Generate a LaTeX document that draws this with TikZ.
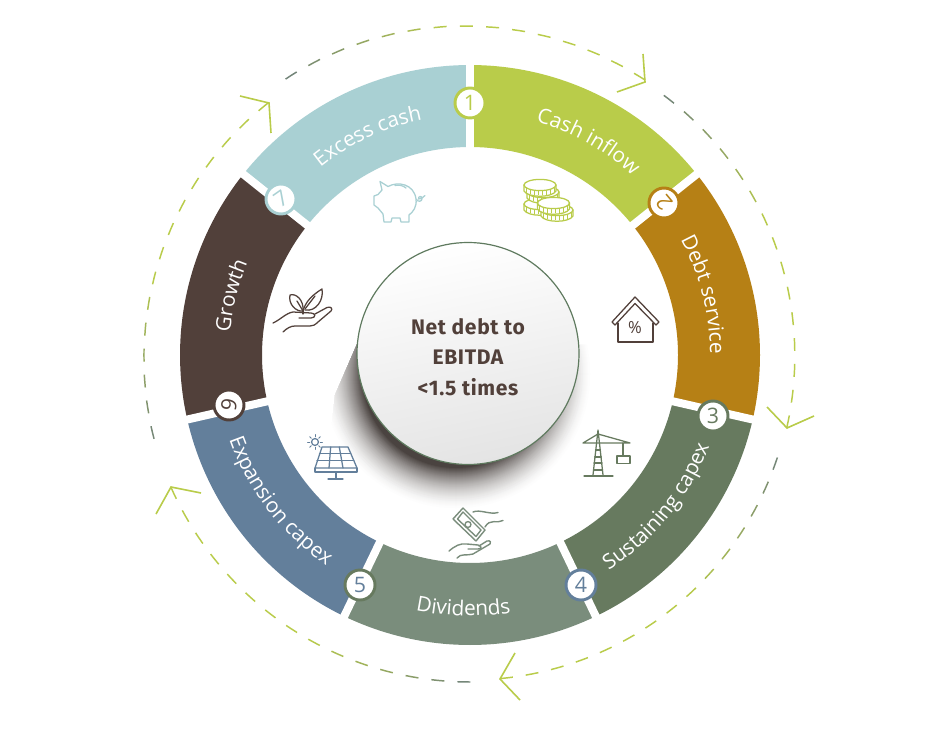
\documentclass[tikz,border=0pt]{standalone}
\usepackage{fontspec}
\setmainfont{Open Sans}
\newfontfamily\ringfont{Open Sans}
\newfontfamily\hubfont[LetterSpace=3]{Fira Sans}
\usetikzlibrary{decorations.text,shapes.geometric}
\definecolor{cExcess}{HTML}{A9D0D3}
\definecolor{cCash}{HTML}{B9CC4A}
\definecolor{cDebt}{HTML}{B68015}
\definecolor{cSust}{HTML}{677A5F}
\definecolor{cDiv}{HTML}{7A8D7C}
\definecolor{cExp}{HTML}{637F9B}
\definecolor{cGrow}{HTML}{51403A}
\definecolor{arcGrey}{HTML}{71837A}
\definecolor{shA}{HTML}{4A4340}
\definecolor{hubLow}{HTML}{E4E4E4}
\definecolor{hubLine}{HTML}{5F7A5F}
\newcommand\ringtxt{\color{white}\ringfont\fontsize{15.6}{18}\selectfont}
\newcommand\seg[3]{\fill[#3] plot[domain=#1:#2,samples=41,variable=\t]({470+290*cos(\t)},{355-290*sin(\t)}) -- plot[domain=#2:#1,samples=41,variable=\t]({470+208*cos(\t)},{355-208*sin(\t)}) -- cycle;}
\newcommand\gapline[1]{\draw[white,line width=6pt] ({470+198*cos(#1)},{355-198*sin(#1)}) -- ({470+300*cos(#1)},{355-300*sin(#1)});}
\newcommand\ringlabel[4]{\path[decorate,decoration={text along path,text align=center,text={|\ringtxt|#1}}] plot[domain=#2:#3,samples=81,variable=\t]({470+#4*cos(\t)},{355-#4*sin(\t)});}
% start angle, tip angle, r start, r tip
\newcommand\dasharc[4]{%
 \pgfmathsetmacro\sgn{(#2>#1)?1:-1}
 \pgfmathtruncatemacro\nn{abs(#2-#1)/4.57}
 \foreach \i in {0,...,\nn}{
  \pgfmathsetmacro\ae{#2-\sgn*\i*4.57}
  \pgfmathsetmacro\as{\ae-\sgn*2.28}
  \pgfmathsetmacro\ff{abs(\ae-#1)/abs(#2-#1)}
  \pgfmathtruncatemacro\pp{min(100,\ff*220)}
  \pgfmathsetmacro\rr{#3+(#4-#3)*\ff}
  \draw[dashpiece,color=cCash!\pp!arcGrey] ({470+\rr*cos(\as)},{355-\rr*sin(\as)}) -- ({470+\rr*cos((\as+\ae)/2)},{355-\rr*sin((\as+\ae)/2)}) -- ({470+\rr*cos(\ae)},{355-\rr*sin(\ae)});
 }}
\newcommand\coin[2]{%
 \fill[white,draw=cCash,icon] (#1-16,#2) -- (#1-16,#2+6) .. controls (#1-12,#2+13) and (#1+12,#2+13) .. (#1+16,#2+6) -- (#1+16,#2) -- cycle;
 \foreach \k in {-.85,-.6,-.35,-.1,.15,.4,.65,.9}{
  \pgfmathsetmacro\ky{#2+5.5*sqrt(1-\k*\k)}
  \draw[cCash,line width=.7pt] ({#1+16*\k},\ky) -- ({#1+16*\k},\ky+5);}
 \filldraw[fill=white,draw=cCash,icon] (#1,#2) ellipse[x radius=12pt,y radius=4.2pt];}
\tikzset{
 badge/.style={circle,fill=white,draw=#1,text=#1,line width=2.2pt,inner sep=0pt,minimum size=22.5pt,font=\ringfont\fontsize{16}{18}\selectfont},
 dashpiece/.style={line width=1.1pt},
 headline/.style={cCash,line width=1.2pt,line join=miter},
 icon/.style={line width=.95pt,line cap=round,line join=round},
}
\begin{document}
\begin{tikzpicture}[x=.75pt,y=-.75pt]
\useasboundingbox[fill=white] (0,0) rectangle (937,737);
% ring
\seg{141.43}{90}{cExcess}
\seg{90}{38.57}{cCash}
\seg{38.57}{-12.86}{cDebt}
\seg{-12.86}{-64.29}{cSust}
\seg{-64.29}{-115.71}{cDiv}
\seg{-115.71}{-167.14}{cExp}
\seg{-167.14}{-218.57}{cGrow}
\foreach \a in {90,38.57,-12.86,-64.29,-115.71,-167.14,-218.57}{\gapline{\a}}
% ring labels
\ringlabel{Excess cash}{145}{85}{240}
\ringlabel{Cash inflow}{91}{31}{242}
\ringlabel{Debt service}{44.4}{-15.6}{240}
\ringlabel{Sustaining capex}{-74}{-4}{256}
\ringlabel{Dividends}{-121.5}{-61.5}{261}
\ringlabel{Expansion capex}{182.5}{252.5}{255}
\ringlabel{Growth}{196}{136}{241}
% badges
\node[badge=cCash] (b1) at (470,103) {1};
\node[badge=cDebt,rotate=130] (b2) at (664,203) {2};
\node[badge=cSust] (b3) at (713,416) {3};
\node[badge=cExp] (b4) at (581,585) {4};
\node[badge=cSust,text=cExp] (b5) at (360,585) {5};
\node[badge=cGrow,rotate=-100] (b6) at (229,405) {6};
\node[badge=cExcess,rotate=35] (b7) at (281,199) {7};
% outer dashed arcs
\dasharc{122.5}{57.5}{332}{326}
\dasharc{52.8}{-13}{324}{325}
\dasharc{-18.9}{-84.7}{324}{325}
\dasharc{269.1}{203.8}{327}{327}
\dasharc{194.7}{128.6}{327}{323}
\draw[headline] (643,54) -- (645,82) -- (617,92);
\draw[headline] (767,407) -- (787,428) -- (814,416);
\draw[headline] (515,653) -- (500,679) -- (520,700);
\draw[headline] (201,493) -- (171,487) -- (156,514);
\draw[headline] (240,96) -- (269,103) -- (271,133);
% hub shadow
\begin{scope}
\clip (358,342) -- (335,395) -- (320,530) -- (600,530) -- (600,345) -- cycle;
\foreach \rr in {138,137,...,94}{
 \pgfmathtruncatemacro\pp{100*((138-\rr)/44)^1.8}
 \fill[shA!\pp!white] (456,374) circle[radius=.75pt*\rr];
}
\end{scope}
% hub
\node[circle,minimum size=166.5pt,inner sep=0pt,draw=hubLine,line width=.9pt,top color=white,middle color=white!97!black,bottom color=hubLow,shading angle=12] (hub) at (468,353.5) {};
\node[align=center,text=cGrow,font=\hubfont\bfseries\fontsize{15.8}{23}\selectfont] (hubtext) at (468,357) {Net debt to\\EBITDA\\<1.5 times};
% piggy icon
\begin{scope}[cExcess,icon]
\draw (380,181.5) -- (388,186.5) .. controls (398,181) and (414,184) .. (416,199) .. controls (417,207) and (413,212) .. (409,215) -- (409,222) -- (401,222) -- (400,218) -- (392,218) -- (391,222) -- (384,222) -- (383,214) -- (378,208) -- (374,205) -- (374,196) -- (378,194.5) -- (382,190) -- cycle;
\draw (395,185.5) .. controls (399,184.5) and (403,185.5) .. (406,188);
\draw (416.5,199.5) .. controls (418,202) and (422,202) .. (422,198.5) .. controls (422,195.5) and (418,196) .. (418.5,199) .. controls (420,199.5) and (423,198) .. (425,195.5);
\end{scope}
% coins icon
\coin{540}{204}
\coin{543}{192}
\coin{557}{210}
\coin{553.5}{203}
\coin{540}{185}
% house icon
\begin{scope}[cGrow,icon]
\draw (612,322) -- (635,297) -- (659,322) -- (656,325) -- (635,303.5) -- (615,325) -- cycle;
\draw (618,323) -- (618,342) -- (653,342) -- (653,323);
\end{scope}
\node[text=cGrow,font=\ringfont\fontsize{12.5}{14}\selectfont,inner sep=0pt] (pct) at (635,328) {\%};
% crane icon
\begin{scope}[cSust,icon]
\draw (584,476) -- (613,476);
\draw (593,475) -- (598,430) -- (603,475);
\foreach \yy/\xa/\xb in {450/595.5/600.5,457/594.7/601.3,463/594/602,470/593.5/602.5}{\draw (\xa,\yy) -- (\xb,\yy);}
\draw (583,443) -- (630,443) -- (598,434) -- (583,443);
\draw (623,443) -- (623,456);
\draw (617,456) rectangle (630,463.5);
\end{scope}
% money hand icon
\begin{scope}[cDiv,icon,line width=1.05pt]
\draw (463,508) -- (485,530) -- (476,541) -- (453,519) -- cycle;
\draw (463,512) -- (481,530) -- (476,536.5) -- (457.5,519) -- cycle;
\draw (468,524.5) circle[radius=2.2pt];
\draw (473,512) .. controls (480,509) and (490,515) .. (498,512.5);
\draw (485,527) .. controls (490,518) and (497,524) .. (503,520.5);
\draw (449,551) .. controls (455,546) and (460,543) .. (467,544) -- (478,545) .. controls (482,546) and (482,549) .. (478,549) -- (468,549);
\draw (479,546) -- (487,541) .. controls (491,540) and (491,543) .. (490,544) -- (473,554) .. controls (467,556) and (461,553) .. (457,558);
\end{scope}
% solar icon
\begin{scope}[cExp,icon]
\draw (315,442) circle[radius=2.6pt];
\foreach \a in {0,45,...,315}{\draw[line width=.6pt] ({315+5.2*cos(\a)},{442+5.2*sin(\a)}) -- ({315+7.5*cos(\a)},{442+7.5*sin(\a)});}
\draw (322,447) -- (348,447) -- (357,468) -- (315,468) -- cycle;
\draw (315,468) -- (315,472) -- (357,472) -- (357,468);
\draw (319.6,453.3) -- (350.7,453.3);
\draw (317,460.7) -- (353.9,460.7);
\draw (330.7,447) -- (329,468);
\draw (339.3,447) -- (343,468);
\draw (336,472) -- (336,479);
\draw (328,479) -- (343,479);
\end{scope}
% plant icon
\begin{scope}[cGrow,icon]
\draw (303,311) .. controls (296,312) and (288,304) .. (290,295) .. controls (296,293) and (304,300) .. (303,311) -- cycle;
\draw (303,311) .. controls (305,304) and (309,297) .. (322,289) .. controls (324,300) and (316,312) .. (305,310);
\draw (303,311) -- (297,301);
\draw (305,309) -- (315,296);
\draw (303,311) -- (303,314);
\draw (273,323) .. controls (280,320) and (286,313) .. (293,312) -- (311,313) .. controls (316,313) and (316,318) .. (311,318) -- (299,318);
\draw (315,314) -- (327,307.5) .. controls (331,306) and (333,309) .. (331,311) -- (318,322) .. controls (315,325) and (313,326) .. (310,326) -- (295,326) .. controls (291,326) and (287,328) .. (283,332);
\end{scope}
\end{tikzpicture}
\end{document}
